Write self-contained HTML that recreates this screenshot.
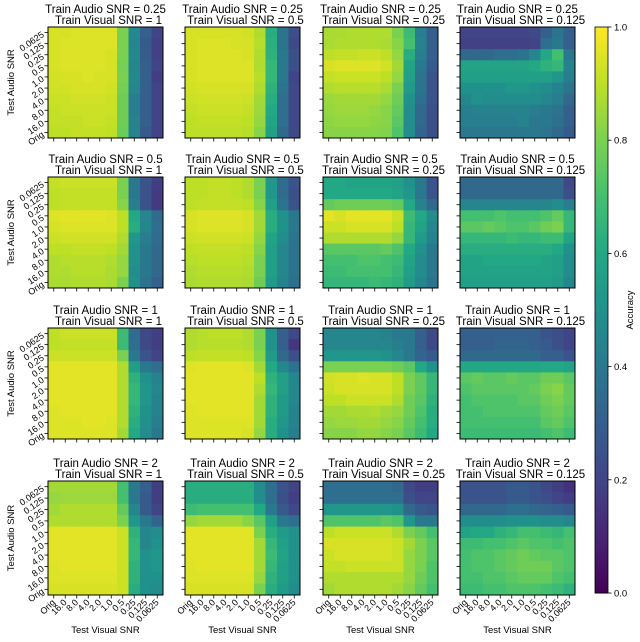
<!DOCTYPE html>
<html><head><meta charset="utf-8"><style>
body{margin:0;background:#fff;}
svg{display:block;font-family:"Liberation Sans",sans-serif;}
</style></head><body>
<svg id="chart" width="640" height="642" viewBox="0 0 640 642"></svg>
<script>
const xCats = ["Orig","16.0","8.0","4.0","2.0","1.0","0.5","0.25","0.125","0.0625"];
const yCats = ["0.0625","0.125","0.25","0.5","1.0","2.0","4.0","8.0","16.0","Orig"];
const trainAudio = ["0.25","0.5","1","2"];
const trainVisual = ["1","0.5","0.25","0.125"];
const cbTicks = [0,0.2,0.4,0.6,0.8,1.0];
const cbTickLabels = ["0.0","0.2","0.4","0.6","0.8","1.0"];
// accuracy x100, row strings (test audio rows top->bottom, test visual cols left->right)
const acc_0_0 = ["94 94 95 95 95 95 80 47 30 20","94 95 95 95 95 95 80 46 28 19","94 95 95 95 95 94 80 47 29 19","94 95 95 95 95 94 79 46 30 20","93 94 94 95 94 94 80 47 30 18","93 93 94 94 94 93 79 46 30 20","92 92 93 93 93 92 78 42 30 20","91 92 92 92 92 92 78 42 30 20","91 91 91 92 92 91 78 44 30 20","90 90 91 91 91 90 77 44 28 20"];
const acc_0_1 = ["94 94 94 94 94 93 88 62 38 24","94 95 95 95 94 94 89 63 38 22","94 95 95 95 95 94 88 64 40 24","94 95 95 95 95 95 88 66 40 24","94 95 95 95 95 95 89 66 40 20","93 94 94 94 94 94 88 64 38 22","92 93 93 93 93 92 86 62 36 22","91 92 92 92 92 91 85 60 36 22","90 91 91 91 91 90 84 58 36 22","90 90 90 90 90 89 82 56 34 22"];
const acc_0_2 = ["87 87 88 88 88 88 80 68 42 30","87 88 88 88 88 87 82 70 44 30","90 91 91 92 92 90 84 62 42 30","94 95 95 95 95 93 86 58 40 28","91 92 92 92 92 90 84 56 38 26","88 89 89 89 89 87 80 54 38 26","85 86 86 86 86 84 78 50 36 26","84 85 85 85 84 82 76 48 34 24","83 84 84 84 83 82 74 48 34 24","82 82 82 82 82 81 72 48 32 24"];
const acc_0_3 = ["20 20 20 20 20 20 22 30 38 30","19 19 19 19 19 19 20 36 40 30","34 34 34 36 36 38 46 60 70 40","58 58 58 58 58 58 60 64 66 44","56 56 56 56 56 56 56 56 52 42","50 50 50 50 52 52 50 48 44 38","46 50 48 48 48 48 48 46 42 34","42 44 44 44 44 44 42 40 38 30","42 42 42 42 42 44 40 40 36 30","40 40 40 40 40 40 40 38 34 28"];
const acc_1_0 = ["91 92 92 92 92 92 80 40 26 18","90 91 91 91 91 91 80 40 25 17","90 91 91 91 91 91 82 42 26 17","95 96 96 96 96 95 90 60 45 35","94 95 95 95 95 95 90 62 46 36","92 93 93 93 93 93 88 52 42 35","90 90 91 91 91 90 86 50 40 34","88 89 89 89 89 88 84 50 40 34","88 88 89 89 89 87 84 48 40 34","87 87 88 88 88 87 80 50 38 30"];
const acc_1_1 = ["90 90 91 91 90 88 80 52 35 25","90 90 91 91 90 88 80 52 35 24","90 91 91 91 91 90 82 56 38 26","94 95 95 95 95 94 86 62 50 40","94 95 95 95 95 94 86 62 50 40","92 93 93 93 93 92 84 58 48 38","90 91 91 91 91 90 82 56 46 38","89 90 90 90 90 89 80 56 46 38","88 89 89 89 89 88 80 56 46 38","87 88 88 88 88 87 78 54 44 36"];
const acc_1_2 = ["60 60 58 58 58 58 56 50 40 26","60 60 60 60 60 60 58 52 40 26","76 78 78 78 78 78 76 60 44 34","96 94 96 96 96 96 92 68 60 48","92 92 94 94 94 94 90 66 58 46","88 88 88 88 88 88 84 66 54 44","74 74 74 74 74 76 72 60 50 40","70 70 70 72 72 70 68 58 48 40","68 68 70 70 70 70 66 56 48 40","66 66 66 66 68 66 64 54 46 38"];
const acc_1_3 = ["34 34 34 34 34 34 34 34 34 22","34 34 34 34 34 34 34 34 34 24","46 46 46 46 46 46 46 46 48 42","70 70 70 72 70 70 70 72 76 66","74 74 76 74 72 72 74 78 80 66","66 66 66 66 68 66 66 68 68 58","62 62 62 62 62 62 62 62 60 50","58 58 60 60 60 60 60 58 56 48","58 58 58 58 58 58 58 58 56 48","56 56 56 56 56 56 56 56 54 46"];
const acc_2_0 = ["90 92 92 92 92 92 68 35 22 18","90 91 91 91 91 91 68 36 22 18","92 92 92 92 92 92 80 40 26 20","96 96 96 96 96 96 88 55 40 36","96 96 96 96 96 96 88 64 50 44","96 96 96 96 96 96 88 66 52 46","96 96 96 96 96 96 88 66 52 44","95 96 96 96 96 96 88 64 50 44","95 95 95 96 96 95 88 62 50 42","95 95 95 95 95 95 86 60 48 40"];
const acc_2_1 = ["88 89 90 90 90 88 80 50 30 22","88 89 89 89 89 88 80 50 30 16","90 91 91 91 91 90 82 54 34 24","95 96 96 96 96 95 86 60 46 38","96 96 96 96 96 96 90 64 56 46","96 96 96 96 96 96 88 66 56 46","96 96 96 96 96 96 86 64 54 46","95 96 96 96 96 96 86 64 54 44","95 95 95 95 95 95 86 62 52 44","95 95 95 95 95 94 84 62 50 42"];
const acc_2_2 = ["46 46 46 46 46 44 40 40 30 22","46 46 46 46 46 46 42 40 30 22","52 52 52 52 52 50 46 40 32 28","80 80 80 80 80 80 78 74 60 50","93 94 94 95 94 94 90 80 75 66","92 94 94 94 94 94 90 80 75 66","90 90 92 92 92 92 88 78 74 64","86 86 87 87 88 86 84 78 72 62","84 85 85 86 86 84 82 76 70 62","82 82 82 84 84 82 80 74 68 60"];
const acc_2_3 = ["30 30 30 30 30 30 30 26 24 20","30 30 30 32 32 32 30 28 24 20","34 34 34 34 34 34 34 30 30 26","60 60 60 60 60 60 60 60 60 58","74 76 74 74 76 74 74 78 78 74","72 74 74 74 74 74 76 80 82 76","70 72 72 72 72 74 74 78 80 76","70 70 72 72 72 72 72 76 78 74","70 70 70 70 70 70 70 74 76 72","68 68 68 68 68 68 68 70 72 68"];
const acc_3_0 = ["86 86 86 86 86 86 70 40 30 18","84 85 85 85 85 85 70 40 28 18","86 88 88 88 88 88 76 46 28 20","88 88 88 88 88 88 80 52 40 32","96 96 96 96 96 96 92 64 46 48","96 96 96 96 96 96 92 66 46 50","96 96 96 96 96 96 92 66 50 52","95 96 96 96 96 96 92 64 50 52","95 95 95 95 95 95 92 64 50 50","94 94 94 94 94 94 92 62 50 48"];
const acc_3_1 = ["62 62 62 62 62 62 48 36 26 20","62 62 62 62 62 62 48 36 24 18","68 70 70 70 70 70 60 40 28 22","84 86 86 86 86 82 74 56 40 36","96 96 96 96 96 96 80 62 54 50","96 96 96 96 96 96 86 66 56 50","96 96 96 96 96 96 86 68 58 50","95 96 96 96 96 96 86 66 56 50","95 95 95 95 95 95 84 64 56 50","94 94 94 94 94 94 80 62 54 48"];
const acc_3_2 = ["36 36 36 36 36 36 34 22 18 18","36 36 36 36 36 36 36 24 20 20","52 52 52 52 52 52 50 34 28 26","72 72 72 72 72 74 72 52 40 40","90 92 92 92 92 92 88 80 76 70","94 94 94 94 94 94 92 86 80 74","92 94 94 94 94 94 92 84 80 74","91 91 92 92 92 92 92 84 80 72","88 88 88 88 88 88 88 84 78 72","86 88 88 88 88 88 86 82 76 70"];
const acc_3_3 = ["26 26 26 26 28 28 26 22 18 14","26 26 26 26 28 28 26 24 20 18","34 34 34 34 36 36 34 32 30 28","48 48 48 48 50 50 50 48 48 46","58 60 60 64 66 70 70 68 66 70","68 68 70 70 72 74 72 72 70 72","70 72 72 74 76 78 76 74 74 72","70 72 72 74 76 78 78 78 74 72","70 70 72 72 74 76 76 76 72 70","68 68 70 70 72 72 72 70 68 64"];
const panelData = [[acc_0_0,acc_0_1,acc_0_2,acc_0_3],[acc_1_0,acc_1_1,acc_1_2,acc_1_3],[acc_2_0,acc_2_1,acc_2_2,acc_2_3],[acc_3_0,acc_3_1,acc_3_2,acc_3_3]];

const V=[[68,1,84],[72,36,117],[65,68,135],[53,95,141],[42,120,142],[33,145,140],[34,168,132],[68,191,112],[122,209,81],[189,223,38],[253,231,37]];
function viridis(t){t=Math.max(0,Math.min(1,t))*10;const i=Math.min(9,Math.floor(t)),f=t-i;const a=V[i],b=V[i+1];return `rgb(${a.map((c,k)=>Math.round(c+(b[k]-c)*f)).join(',')})`;}
const NS="http://www.w3.org/2000/svg";const svg=document.getElementById('chart');
function el(tag,attrs,parent){const e=document.createElementNS(NS,tag);for(const k in attrs)e.setAttribute(k,attrs[k]);(parent||svg).appendChild(e);return e;}
const colX=[48,185,323,460], rowY=[27,177,328,481], PW=115, PH=[111,111,111,114];
for(let r=0;r<4;r++)for(let c=0;c<4;c++){
  const g=el('g',{});
  
  
  const x0=colX[c],y0=rowY[r],h=PH[r];
  const xs=i=>x0+i*PW/xCats.length, ys=j=>y0+j*h/yCats.length;
  const rows=panelData[r][c];
  rows.forEach((rs,j)=>rs.split(' ').forEach((v,i)=>{
    const cell=el('rect',{x:xs(i),y:ys(j),width:PW/xCats.length+0.4,height:h/yCats.length+0.4,fill:viridis(+v/100)},g);
    
    
  }));
  el('rect',{x:x0,y:y0,width:PW,height:h,fill:'none',stroke:'#000','stroke-width':1},g);
  for(let i=0;i<xCats.length;i++){const tx=xs(i+0.5);el('line',{x1:tx,x2:tx,y1:y0+h,y2:y0+h+3.5,stroke:'#000','stroke-width':0.8},g);
    if(r===3){const t=el('text',{x:tx+2,y:y0+h+8,'font-size':9,'text-anchor':'end',transform:`rotate(-45 ${tx+2} ${y0+h+8})`},g);t.textContent=xCats[i];}}
  for(let j=0;j<yCats.length;j++){const ty=ys(j+0.5);el('line',{x1:x0-3.5,x2:x0,y1:ty,y2:ty,stroke:'#000','stroke-width':0.8},g);
    if(c===0){const t=el('text',{x:x0-5,y:ty+4,'font-size':9,'text-anchor':'end',transform:`rotate(-35 ${x0-5} ${ty+1})`},g);t.textContent=yCats[j];}}
  const t1=el('text',{x:x0+PW/2,y:y0-14,'font-size':11.5,'text-anchor':'middle'},g);t1.textContent='Train Audio SNR = '+trainAudio[r];
  
  const t2=el('text',{x:x0+PW/2+3,y:y0-3,'font-size':11.5,'text-anchor':'middle'},g);t2.textContent='Train Visual SNR = '+trainVisual[c];
  
  if(c===0){const a=el('text',{x:14,y:y0+h/2,'font-size':9.5,'text-anchor':'middle',transform:`rotate(-90 14 ${y0+h/2})`},g);a.textContent='Test Audio SNR';}
  if(r===3){const a=el('text',{x:x0+PW/2,y:633,'font-size':9.5,'text-anchor':'middle'},g);a.textContent='Test Visual SNR';}
}
// colorbar
const cb=el('g',{});
const cbX=595,cbW=13,cbTop=27,cbBot=593,cy=v=>cbBot-v*(cbBot-cbTop);
for(let k=0;k<200;k++){el('rect',{x:cbX,y:cy((k+1)/200),width:cbW,height:(cbBot-cbTop)/200+0.5,fill:viridis((k+0.5)/200)},cb);}
el('rect',{x:cbX,y:cbTop,width:cbW,height:cbBot-cbTop,fill:'none',stroke:'#000','stroke-width':0.8},cb);
cbTicks.forEach((v,i)=>{el('line',{x1:cbX+cbW,x2:cbX+cbW+3.5,y1:cy(v),y2:cy(v),stroke:'#000','stroke-width':0.8},cb);
  const t=el('text',{x:cbX+cbW+6,y:cy(v)+3.5,'font-size':9.5},cb);t.textContent=cbTickLabels[i];});
const cl=el('text',{x:633,y:310,'font-size':9.5,'text-anchor':'middle',transform:'rotate(-90 633 310)'},cb);cl.textContent='Accuracy';

</script>
</body></html>
